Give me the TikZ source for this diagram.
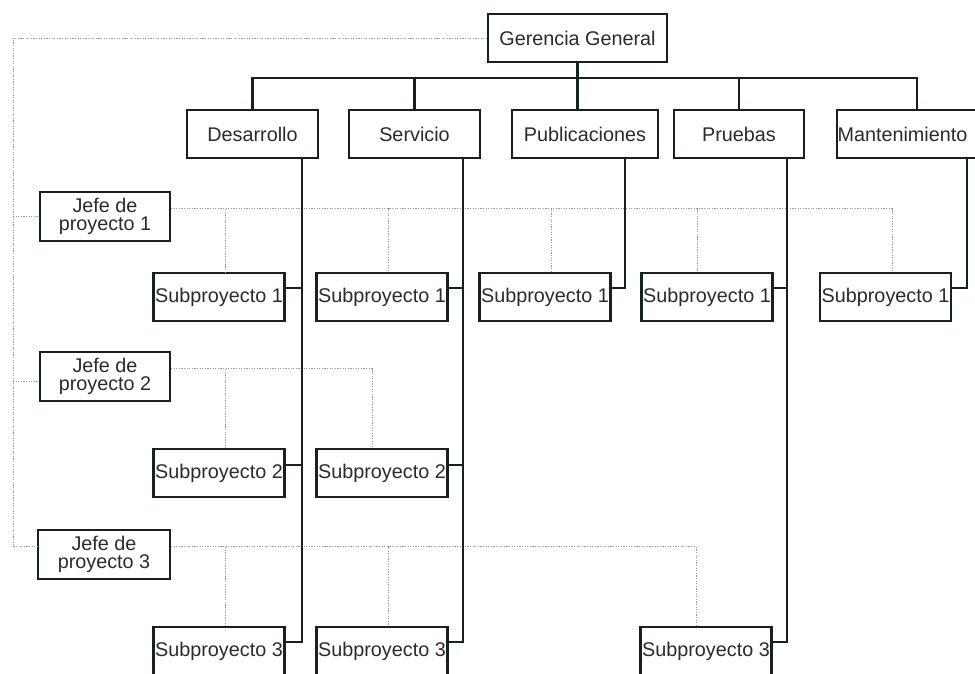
\documentclass[tikz,border=0pt]{standalone}
\usepackage{fontspec}
\setmainfont{Liberation Sans}
\usetikzlibrary{calc}
\definecolor{ink}{RGB}{24,34,28}
\definecolor{txt}{RGB}{40,44,42}
\definecolor{dots}{RGB}{155,155,155}
\begin{document}
\begin{tikzpicture}[x=1pt,y=-1pt,
  box/.style={draw=ink,line width=2.1pt,inner sep=0pt,fill=white,
    font=\fontsize{19.8}{17.5}\selectfont,text=txt,align=center,minimum height=48pt},
  subbox/.style={box,minimum width=131pt},
  jefebox/.style={box,minimum width=130pt,minimum height=49pt},
  conn/.style={draw=ink,line width=2.1pt},
  dot/.style={draw=dots,line width=0.8pt,dash pattern=on 1.2pt off 1.4pt}]
\useasboundingbox (0,0) rectangle (975,673);
\clip (0,0) rectangle (975,673);
\fill[white] (0,0) rectangle (975,673);

\coordinate (lft) at (13,0);
\node[box,minimum width=179pt] (gg) at (577.5,38) {Gerencia General};
\node[jefebox] (j1) at (105,216.5) {Jefe de\\proyecto 1};
\node[jefebox] (j2) at (105,376.5) {Jefe de\\proyecto 2};
\node[jefebox,minimum width=132pt] (j3) at (104,554.5) {Jefe de\\proyecto 3};

\node[subbox] (s11) at (219,297) {Subproyecto 1};
\node[subbox] (s21) at (382,297) {Subproyecto 1};
\node[subbox] (s31) at (545,297) {Subproyecto 1};
\node[subbox] (s41) at (707,297) {Subproyecto 1};
\node[subbox] (s51) at (885.5,297) {Subproyecto 1};
\node[subbox] (s12) at (219,473) {Subproyecto 2};
\node[subbox] (s22) at (382,473) {Subproyecto 2};
\node[subbox] (s13) at (219,651) {Subproyecto 3};
\node[subbox] (s23) at (382,651) {Subproyecto 3};
\node[subbox] (s43) at (706,651) {Subproyecto 3};

% dotted project lines
\draw[dot] (gg.west) -| ($(lft |- j3.west)+(0,-8)$) -- ($(j3.west)+(0,-8)$);
\draw[dot] (lft |- j1.west) -- (j1.west);
\draw[dot] ($(lft |- j2.west)+(0,5)$) -- ($(j2.west)+(0,5)$);

\draw[dot] ($(j1.east)+(0,-8)$) -| ($(s51.north)+(6.5,0)$);
\draw[dot] ($(j1.east)+(0,-8)$) -| ($(s11.north)+(6,0)$);
\draw[dot] ($(j1.east)+(0,-8)$) -| ($(s21.north)+(6,0)$);
\draw[dot] ($(j1.east)+(0,-8)$) -| ($(s31.north)+(6,0)$);
\draw[dot] ($(j1.east)+(0,-8)$) -| ($(s41.north)+(-10,0)$);

\draw[dot] ($(j2.east)+(0,-8)$) -| ($(s22.north)+(-10,0)$);
\draw[dot] ($(j2.east)+(0,-8)$) -| ($(s12.north)+(6,0)$);

\draw[dot] ($(j3.east)+(0,-8)$) -| ($(s43.north)+(-10,0)$);
\draw[dot] ($(j3.east)+(0,-8)$) -| ($(s13.north)+(6,0)$);
\draw[dot] ($(j3.east)+(0,-8)$) -| ($(s23.north)+(6,0)$);

% departments
\node[box,minimum width=131pt] (dev) at (252.5,134) {Desarrollo};
\node[box,minimum width=131pt] (ser) at (414.5,134) {Servicio};
\node[box,minimum width=146pt] (pub) at (585,134) {Publicaciones};
\node[box,minimum width=130pt] (pru) at (739,134) {Pruebas};
\node[box,minimum width=160pt,text width=159pt,inner xsep=0.5pt,align=left] (man) at (917,134) {Mantenimiento};

% hierarchy bus
\draw[conn] (gg.south) -- (pub.north -| gg.south);
\draw[conn] (dev.north) -- (dev.north |- 0,78) -- (man.north |- 0,78) -- (man.north);
\draw[conn] (ser.north) -- (ser.north |- 0,78);
\draw[conn] (pru.north) -- (pru.north |- 0,78);

% trunks and branches
\draw[conn] (dev.south -| 302,0) |- ($(s11.north east)+(0,16)$);
\draw[conn] (dev.south -| 302,0) |- ($(s12.north east)+(0,17)$);
\draw[conn] (dev.south -| 302,0) |- ($(s13.north east)+(0,16)$);
\draw[conn] (ser.south -| 463,0) |- ($(s21.north east)+(0,16)$);
\draw[conn] (ser.south -| 463,0) |- ($(s22.north east)+(0,17)$);
\draw[conn] (ser.south -| 463,0) |- ($(s23.north east)+(0,16)$);
\draw[conn] (pub.south -| 625,0) |- ($(s31.north east)+(0,16)$);
\draw[conn] (pru.south -| 787,0) |- ($(s41.north east)+(0,16)$);
\draw[conn] (pru.south -| 787,0) |- ($(s43.north east)+(0,16)$);
\draw[conn] (man.south -| 967,0) |- ($(s51.north east)+(0,16)$);
\end{tikzpicture}
\end{document}
